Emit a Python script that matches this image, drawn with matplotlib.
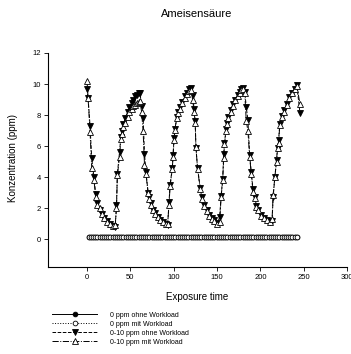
import numpy as np
import matplotlib.pyplot as plt

plt.rcParams['font.family'] = ['Liberation Sans', 'DejaVu Sans']

# 0 ppm runs: sampled every 2.5 min
t_zero = np.arange(2, 244, 2.5)
ohne_0 = [0.12, 0.13, 0.12, 0.12, 0.13, 0.12, 0.12, 0.13, 0.12, 0.12,
          0.13, 0.12, 0.12, 0.13, 0.12, 0.12, 0.13, 0.12, 0.12, 0.13,
          0.12, 0.12, 0.13, 0.12, 0.12, 0.13, 0.12, 0.12, 0.13, 0.12,
          0.12, 0.13, 0.12, 0.12, 0.13, 0.12, 0.12, 0.13, 0.12, 0.12,
          0.13, 0.12, 0.12, 0.13, 0.12, 0.12, 0.13, 0.12, 0.12, 0.13,
          0.12, 0.12, 0.13, 0.12, 0.12, 0.13, 0.12, 0.12, 0.13, 0.12,
          0.12, 0.13, 0.12, 0.12, 0.13, 0.12, 0.12, 0.13, 0.12, 0.12,
          0.13, 0.12, 0.12, 0.13, 0.12, 0.12, 0.13, 0.12, 0.12, 0.13,
          0.12, 0.12, 0.13, 0.12, 0.12, 0.13, 0.12, 0.12, 0.13, 0.12,
          0.12, 0.13, 0.12, 0.12, 0.13, 0.12, 0.12]
mit_0 = [0.14, 0.13, 0.14, 0.14, 0.13, 0.14, 0.15, 0.14, 0.13, 0.14,
         0.14, 0.13, 0.14, 0.15, 0.14, 0.13, 0.14, 0.14, 0.13, 0.14,
         0.15, 0.14, 0.13, 0.14, 0.14, 0.13, 0.14, 0.15, 0.14, 0.13,
         0.14, 0.14, 0.13, 0.14, 0.15, 0.14, 0.13, 0.14, 0.14, 0.13,
         0.14, 0.15, 0.14, 0.13, 0.14, 0.14, 0.13, 0.14, 0.15, 0.14,
         0.13, 0.14, 0.14, 0.13, 0.14, 0.15, 0.14, 0.13, 0.14, 0.14,
         0.13, 0.14, 0.15, 0.14, 0.13, 0.14, 0.14, 0.13, 0.14, 0.15,
         0.14, 0.13, 0.14, 0.14, 0.13, 0.14, 0.15, 0.14, 0.13, 0.14,
         0.14, 0.13, 0.14, 0.15, 0.14, 0.13, 0.14, 0.14, 0.13, 0.14,
         0.15, 0.14, 0.13, 0.14, 0.14, 0.13, 0.14]

# 0-10 ppm runs
t_exp = [0, 1.2, 3.5, 5.4, 8, 10, 12, 14.5, 17, 19.8, 22.8, 26, 29.4, 32.5,
         34, 35, 37.5, 39, 40.7, 42, 44, 46.8, 49, 51.5, 53.5, 55, 57.5, 59.5,
         61, 63, 64.7, 66.3, 68, 70.5, 72, 73.5, 76, 78.6, 81.7, 84.7, 87.4, 90.7,
         93, 94.6, 95.8, 98.4, 99.2, 100.4, 101.5, 103.5, 105.5, 107.4, 110, 113,
         115.5, 117.6,
         120, 121.8, 123.6, 124.8, 125.6, 127.5, 130.6, 133, 135.5, 138, 141, 144,
         147, 150.5, 153, 154.7, 156.5, 157.7, 158.5, 160.5, 161.5, 163, 166,
         168.2, 170.7, 174, 176, 178,
         180.5, 182, 183.7, 185.6, 187.6, 189.5, 191.5, 193.8, 195.3, 197.5, 201,
         204, 208, 211, 213.5, 214.7, 216.7, 218.6, 219.8, 221, 222.4, 225, 227.5,
         230.2, 232.9, 236.5, 239.6, 242, 245.7]
ohne_10 = [9.7, 9.1, 7.3, 5.2, 4.0, 2.9, 2.3, 1.9, 1.6, 1.35, 1.15, 1.0, 0.85, 0.75,
           2.2, 4.2, 5.6, 6.6, 7.0, 7.4, 7.8, 8.2, 8.5, 8.8, 9.0, 9.2, 9.3, 9.4,
           9.45, 8.6, 7.8, 5.5, 4.3, 3.0, 2.7, 2.3, 1.9, 1.65, 1.4, 1.25, 1.1, 0.95,
           0.9, 2.4, 3.5, 4.6, 5.4, 6.5, 7.1, 7.9, 8.2, 8.5, 8.85, 9.2, 9.45, 9.65,
           9.75, 9.3, 8.4, 7.6, 5.9, 4.6, 3.3, 2.7, 2.2, 1.85, 1.55, 1.35, 1.2, 1.05,
           1.4, 2.8, 3.9, 5.5, 6.2, 7.1, 7.5, 7.9, 8.3, 8.7, 9.0, 9.3, 9.5, 9.7,
           9.75, 9.5, 8.5, 7.7, 5.4, 4.3, 3.2, 2.7, 2.15, 1.9, 1.55, 1.35, 1.2, 1.1,
           1.15, 2.7, 4.0, 5.1, 5.9, 6.4, 7.4, 7.95, 8.3, 8.7, 9.15, 9.45, 9.7, 9.95,
           8.1]
mit_10 = [10.2, 9.1, 6.9, 4.6, 3.8, 2.7, 2.2, 2.0, 1.6, 1.35, 1.1, 1.0, 0.85, 0.9,
          2.0, 4.1, 5.3, 6.45, 6.8, 7.2, 7.5, 7.85, 8.2, 8.4, 8.55, 8.65, 8.75, 8.85,
          8.9, 8.2, 6.95, 4.8, 4.2, 2.95, 2.6, 2.2, 1.85, 1.6, 1.4, 1.25, 1.1, 0.95,
          1.0, 2.2, 3.4, 4.55, 5.3, 6.4, 7.05, 7.8, 8.1, 8.4, 8.75, 9.1, 9.35, 9.55,
          9.6, 9.0, 8.2, 7.5, 5.95, 4.55, 3.2, 2.6, 2.15, 1.8, 1.5, 1.3, 1.15, 1.0,
          1.1, 2.7, 3.8, 5.2, 6.1, 7.0, 7.4, 7.8, 8.2, 8.6, 8.95, 9.2, 9.4, 9.6,
          9.65, 9.4, 7.6, 7.0, 5.3, 4.2, 3.05, 2.65, 2.1, 1.85, 1.5, 1.35, 1.2, 1.1,
          1.3, 2.85, 4.0, 5.0, 5.85, 6.2, 7.35, 7.9, 8.2, 8.65, 9.1, 9.4, 9.65, 9.9,
          8.7]

labels = ["0 ppm ohne Workload", "0 ppm mit Workload",
          "0-10 ppm ohne Workload", "0-10 ppm mit Workload"]

fig = plt.figure(figsize=(3.51, 3.54), dpi=100)
ax = fig.add_axes([0.1368, 0.2458, 0.852, 0.6045])

lw = 0.7
mew = 0.6
h1, = ax.plot(t_zero, ohne_0, '-', color='black', lw=lw, marker='o', ms=3.4,
              mfc='black', mec='black', mew=mew)
h2, = ax.plot(t_zero, mit_0, ':', color='black', lw=lw, marker='o', ms=3.4,
              mfc='white', mec='black', mew=mew)
h3, = ax.plot(t_exp, ohne_10, '--', color='black', lw=lw, marker='v', ms=3.8,
              mfc='black', mec='black', mew=mew)
h4, = ax.plot(t_exp, mit_10, '-.', color='black', lw=lw, marker='^', ms=3.8,
              mfc='white', mec='black', mew=mew)

ax.set_xlim(-45, 300)
ax.set_ylim(-1.8, 12)
ax.set_xticks(range(0, 301, 50))
ax.set_yticks(range(0, 13, 2))
ax.spines['top'].set_visible(False)
ax.spines['right'].set_visible(False)
for s in ('left', 'bottom'):
    ax.spines[s].set_linewidth(0.8)
ax.tick_params(direction='out', length=3, width=0.6, labelsize=5.5, pad=2)

ax.set_xlabel("Exposure time", fontsize=7, labelpad=8)
ax.set_ylabel("Konzentration (ppm)", fontsize=7)
ax.yaxis.set_label_coords(-0.10, 0.51)

fig.text(0.56, 0.96, "Ameisensäure", fontsize=8, ha='center', va='center')

fig.legend([h1, h2, h3, h4], labels, loc='upper left',
           bbox_to_anchor=(0.148, 0.12), fontsize=5, frameon=False,
           numpoints=1, handlelength=6.5, handletextpad=1.9,
           labelspacing=0.3, borderpad=0, borderaxespad=0)

fig.savefig("out.png", dpi=100)
